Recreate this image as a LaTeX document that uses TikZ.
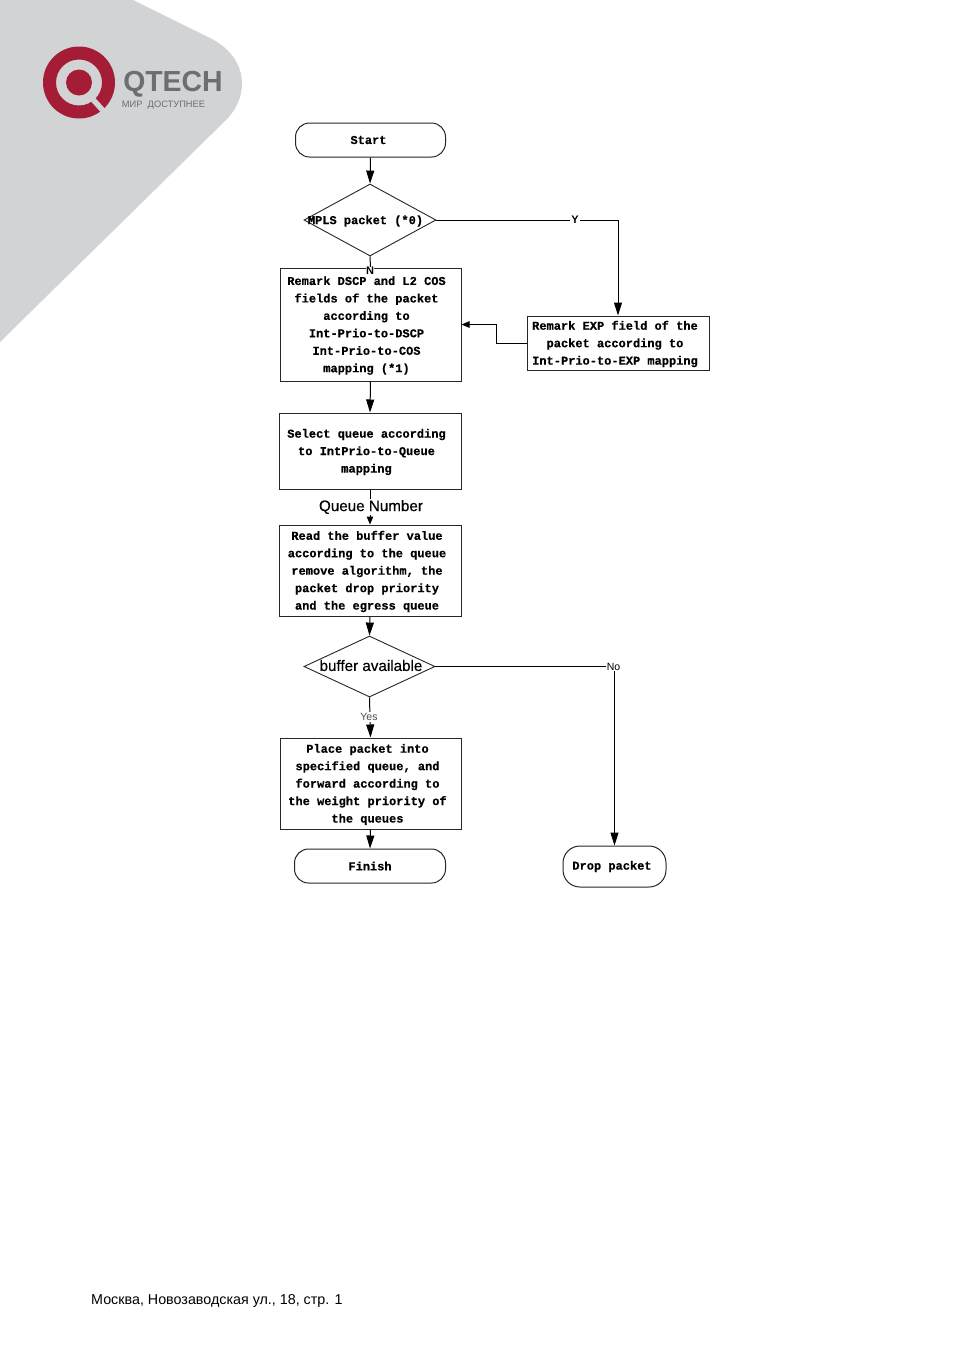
\documentclass[tikz,border=0pt]{standalone}
\usepackage{fontspec}
\setmainfont{Liberation Sans}
\newfontfamily\boxfont{Liberation Mono Bold}[FakeBold=0.5]
\newfontfamily\labfont{Liberation Sans}[FakeBold=0.35]
\usetikzlibrary{shapes.geometric,arrows.meta}
\definecolor{qred}{HTML}{A51C36}
\definecolor{qgrey}{HTML}{6D6E71}
\definecolor{qbg}{HTML}{D1D3D4}
\colorlet{ink}{black!85}
\tikzset{
 flowline/.style={draw=black,line width=1pt},
 arr/.style={flowline,-{Triangle[length=13pt,width=8pt]}},
 arrsmall/.style={flowline,-{Triangle[length=8pt,width=6.5pt]}},
 boxfontstyle/.style={font=\boxfont\fontsize{12}{17.45}\selectfont,align=center,inner sep=0pt},
 boxtxt/.style={boxfontstyle,yshift=-1pt},
 procbox/.style={draw=ink,line width=1pt,rectangle,inner sep=0pt},
 term/.style={draw=ink,line width=1pt,rectangle,rounded corners=14pt,boxfontstyle},
 dec/.style={draw=ink,line width=0.9pt,diamond,inner sep=0pt},
 sanslab/.style={font=\labfont\fontsize{15.2}{16}\selectfont,inner sep=1pt},
 smalllab/.style={fill=white,inner sep=1pt},
}
\begin{document}
\begin{tikzpicture}[x=1pt,y=-1pt]
\useasboundingbox (0,0) rectangle (954,1350);
\fill[white] (0,0) rectangle (954,1350);
% corner shape and logo
\fill[qbg] (0,0) -- (133,0) -- (212,39) .. controls (236,52) and (242,70) .. (242,84) .. controls (242,97) and (236,110) .. (226,120) -- (0,342) -- cycle;
\fill[qred,even odd rule] (79,82.5) circle (36) (79,82.5) circle (23);
\fill[qred] (79,82.5) circle (13);
\draw[qbg,line width=5.5pt] (88,94) -- (107,115);
\node[font=\bfseries\fontsize{29}{29}\selectfont,text=qgrey,inner sep=0pt,anchor=center,xscale=0.98] (qt) at (173,84.5) {QTECH};
\node[font=\fontsize{9.3}{10}\selectfont,text=qgrey,inner sep=0pt] (qs) at (163.5,105) {МИР\ \ ДОСТУПНЕЕ};
% nodes
\node[term,minimum width=150pt,minimum height=34pt] (start) at (370.5,140) {\kern-4pt Start};
\node[dec,minimum width=132pt,minimum height=72pt,aspect=1.83,label={[boxtxt,xshift=-4.5pt]center:MPLS packet (*0)}] (d1) at (370,220) {};
\node[procbox,minimum width=181pt,minimum height=113pt,label={[boxtxt,xshift=-4pt]center:{Remark DSCP and L2 COS\\fields of the packet\\according to\\Int-Prio-to-DSCP\\Int-Prio-to-COS\\mapping (*1)}}] (b1) at (370.5,324.5) {};
\node[procbox,minimum width=182pt,minimum height=54pt,label={[boxtxt,xshift=-3pt]center:{Remark EXP field of the\\packet according to\\Int-Prio-to-EXP mapping}}] (exp) at (618,343) {};
\node[procbox,minimum width=182pt,minimum height=76pt,label={[boxtxt,xshift=-3.5pt]center:{Select queue according\\to IntPrio-to-Queue\\mapping}}] (sel) at (370,451) {};
\node[procbox,minimum width=182pt,minimum height=91pt,label={[boxtxt,xshift=-3pt]center:{Read the buffer value\\according to the queue\\remove algorithm, the\\packet drop priority\\and the egress queue}}] (read) at (370,570.5) {};
\node[dec,minimum width=131pt,minimum height=61pt,aspect=2.15,label={[sanslab,yshift=1pt,xshift=1.5pt]center:buffer available}] (d2) at (369.5,666.5) {};
\node[procbox,minimum width=181pt,minimum height=91pt,label={[boxtxt,xshift=-3pt]center:{Place packet into\\specified queue, and\\forward according to\\the weight priority of\\the queues}}] (place) at (370.5,783.5) {};
\node[term,minimum width=151pt,minimum height=34pt] (finish) at (370,866) {Finish};
\node[term,minimum width=103pt,minimum height=41pt,rounded corners=17pt] (drop) at (614.5,866.5) {\kern-5pt Drop packet};
% connectors
\draw[arr] (start.south) -- (d1.north);
\draw[flowline] (d1.south) -- (b1.north);
\node[fill=white,font=\bfseries\fontsize{11}{11}\selectfont,inner sep=0.5pt] (ln) at (370,271) {N};
\draw[arr] (d1.east) -| (exp.north);
\node[smalllab,font=\bfseries\fontsize{11}{11}\selectfont] (ly) at (575,219.5) {Y};
\coordinate (elbow) at (496,343);
\draw[arrsmall] (exp.west) -- (elbow) |- (b1.east);
\draw[arr] (b1.south) -- (sel.north);
\draw[arrsmall] (sel.south) -- (read.north);
\node[sanslab,fill=white] (lq) at (371,507) {Queue Number};
\draw[arr] (read.south) -- (d2.north);
\draw[arr] (d2.south) -- (place.north);
\node[smalllab,font=\fontsize{10.5}{11}\selectfont,text=black!70] (lyes) at (369,717) {Yes};
\draw[arr] (place.south) -- (finish.north);
\draw[arr] (d2.east) -| (drop.north);
\node[smalllab,font=\fontsize{10.5}{11}\selectfont] (lno) at (613.5,666.5) {No};
% footer
\node[anchor=west,inner sep=0pt,font=\fontsize{14.3}{16}\selectfont] (foot) at (91,1300.5) {Москва, Новозаводская ул., 18, стр. 1};
\end{tikzpicture}
\end{document}
